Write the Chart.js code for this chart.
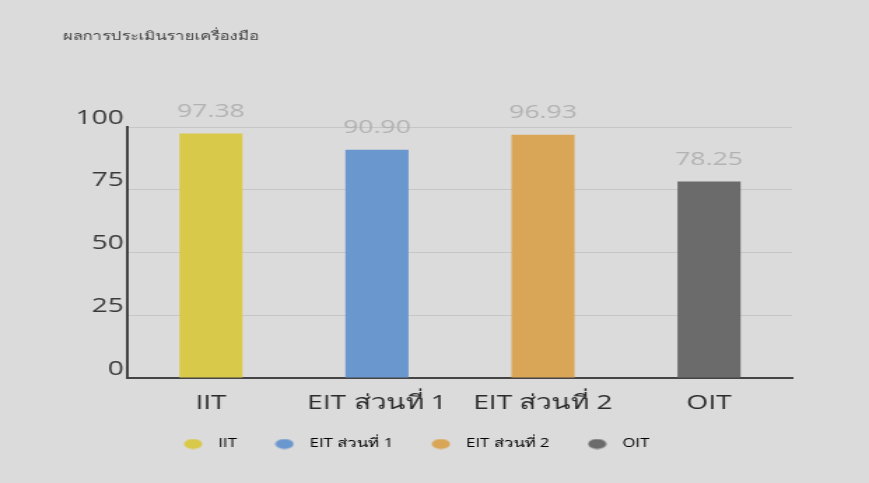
<!DOCTYPE html>
<html>
<head>
<meta charset="utf-8">
<script src="https://cdn.jsdelivr.net/npm/chart.js@4"></script>
<style>
  html,body{margin:0;padding:0;background:#dbdbdb;overflow:hidden;}
  /* the photographed print is stretched sideways, so the canvas is drawn narrow and widened */
  #c{display:block;width:869px;height:483px;}
</style>
</head>
<body>
<canvas id="c" width="621" height="483" style="width:869px;height:483px"></canvas>
<script>
// values
const categories = ['IIT', 'EIT ส่วนที่ 1', 'EIT ส่วนที่ 2', 'OIT'];
const scores = [97.38, 90.90, 96.93, 78.25];
const barColors = ['#d9c94b', '#6b97cf', '#d9a657', '#6b6b6b'];
const yTicks = [0, 25, 50, 75, 100];
const titleText = 'ผลการประเมินรายเครื่องมือ';

const FONT = '"Open Sans", "Noto Sans", sans-serif';

// little flat dots for the legend
function dot(color){
  const c = document.createElement('canvas'); c.width = 14; c.height = 11;
  const g = c.getContext('2d');
  g.fillStyle = color; g.beginPath(); g.ellipse(7, 5.5, 6.5, 5, 0, 0, Math.PI*2); g.fill();
  return c;
}
const dots = barColors.map(dot);

const titleDraw = {
  id: 'titleDraw',
  afterDraw(chart){
    const ctx = chart.ctx;
    ctx.save();
    ctx.font = '12px ' + FONT; ctx.fillStyle = '#454545';
    ctx.textAlign = 'left'; ctx.textBaseline = 'middle';
    ctx.fillText(titleText, 45, 37);
    ctx.restore();
  }
};

// value above each bar
const valueLabels = {
  id: 'valueLabels',
  afterDatasetsDraw(chart){
    const ctx = chart.ctx;
    const meta = chart.getDatasetMeta(0);
    ctx.save();
    ctx.font = '19px ' + FONT;
    ctx.fillStyle = '#b2b2b2';
    ctx.textAlign = 'center'; ctx.textBaseline = 'middle';
    meta.data.forEach((bar, i)=>{ ctx.fillText(scores[i].toFixed(2), bar.x, bar.y - 22); });
    ctx.restore();
  }
};

new Chart(document.getElementById('c'), {
  type: 'bar',
  data: {
    labels: categories,
    datasets: [{ label: 'score', data: scores, backgroundColor: barColors, borderWidth: 0,
                 barPercentage: 0.76, categoryPercentage: 0.5 }]
  },
  options: {
    responsive: false,
    animation: false,
    layout: { padding: { left: 24, right: 55, top: 127, bottom: 23 } },
    scales: {
      x: {
        afterFit(s){ s.height = 38; },
        grid: { display: false, drawTicks: false },
        border: { color: '#444', width: 2 },
        ticks: { color: '#2c2c2c', font: { family: FONT, size: 20 }, padding: 13 }
      },
      y: {
        min: 0, max: 100,
        afterBuildTicks(s){ s.ticks = yTicks.map(v=>({ value: v })); },
        afterFit(s){ s.width = 67.4; },
        grid: { color: '#c6c6c6', lineWidth: 1, drawTicks: false },
        border: { color: '#444', width: 2 },
        ticks: { color: '#3a3a3a', font: { family: FONT, size: 20 }, padding: 3, labelOffset: -9 }
      }
    },
    plugins: {
      title: { display: false },
      legend: {
        position: 'bottom',
        labels: {
          usePointStyle: true, pointStyleWidth: 24, boxHeight: 11,
          color: '#7a7a7a', font: { family: FONT, size: 12 }, padding: 22,
          generateLabels(){
            return categories.map((c, i)=>({ text: c, fillStyle: barColors[i], strokeStyle: barColors[i],
              lineWidth: 0, pointStyle: dots[i], hidden: false, index: i, datasetIndex: 0 }));
          }
        }
      },
      tooltip: { enabled: false }
    }
  },
  plugins: [valueLabels, titleDraw]
});
</script>
</body>
</html>
